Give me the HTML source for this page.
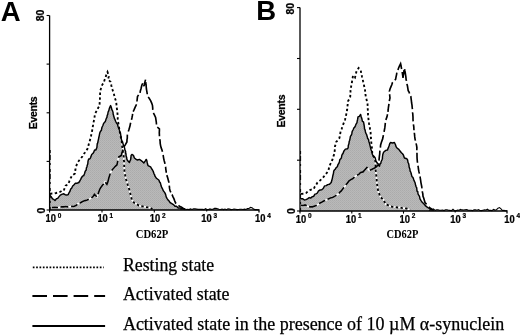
<!DOCTYPE html>
<html><head><meta charset="utf-8"><title>Figure</title>
<style>
html,body{margin:0;padding:0;background:#fff;}
body{width:520px;height:335px;overflow:hidden;}
svg{display:block;}
.ax{font-family:"Liberation Sans",Arial,sans-serif;font-weight:bold;font-size:10.5px;fill:#000;stroke:#000;stroke-width:0.25px;}
.big{font-family:"Liberation Sans",Arial,sans-serif;font-weight:bold;font-size:27.5px;fill:#000;}
.cd{font-family:"Liberation Serif","Times New Roman",serif;font-weight:bold;font-size:11.6px;fill:#000;}
.lg{font-family:"Liberation Serif","Times New Roman",serif;font-size:18.1px;fill:#000;stroke:#000;stroke-width:0.25px;}
</style></head><body>
<svg width="520" height="335" viewBox="0 0 520 335">
<defs><pattern id="ht" width="2" height="2" patternUnits="userSpaceOnUse"><rect width="2" height="2" fill="#b9b9b9"/><rect width="1" height="1" fill="#ababab"/><rect x="1" y="1" width="1" height="1" fill="#b0b0b0"/></pattern></defs>
<rect width="520" height="335" fill="#fff"/>
<path d="M50.1,210.0 L50.0,195.6 L51.3,196.8 L52.5,198.9 L53.8,199.4 L55.0,200.6 L56.3,198.8 L57.7,198.4 L58.8,196.9 L60.3,195.1 L62.3,194.1 L63.8,193.8 L65.1,194.7 L66.9,195.0 L68.2,194.6 L69.0,192.8 L70.0,191.2 L70.7,189.1 L71.6,188.2 L72.7,186.0 L73.8,185.0 L75.4,183.3 L77.3,183.2 L78.8,182.5 L79.8,181.0 L80.7,179.4 L81.4,177.7 L82.5,176.2 L83.7,175.6 L84.5,173.7 L85.2,171.2 L86.2,170.0 L86.4,167.9 L86.9,167.0 L87.2,165.4 L87.8,163.8 L88.0,161.2 L88.7,158.9 L89.8,159.0 L90.6,157.6 L91.7,154.5 L92.5,153.8 L93.5,152.7 L94.6,149.9 L95.9,149.9 L96.9,147.5 L97.1,145.1 L97.3,143.4 L97.7,143.0 L98.1,140.9 L98.6,138.6 L98.8,137.5 L99.3,135.3 L99.6,133.7 L100.0,132.3 L100.6,131.2 L101.4,130.2 L101.9,127.5 L102.9,125.5 L103.5,123.6 L104.4,122.5 L105.3,121.5 L106.3,118.4 L106.9,117.5 L107.2,115.3 L107.7,114.5 L108.1,112.0 L108.8,110.6 L109.4,108.2 L110.0,106.8 L110.6,105.6 L111.2,107.0 L111.9,109.8 L112.5,110.6 L113.1,112.6 L113.1,113.8 L113.8,116.2 L114.5,118.7 L114.8,119.1 L115.6,121.2 L116.6,123.3 L117.4,124.0 L118.0,126.2 L118.8,128.8 L119.4,130.0 L119.6,131.6 L120.4,132.7 L120.6,134.8 L121.1,136.6 L121.2,138.8 L121.8,140.8 L122.6,141.9 L123.0,143.6 L123.8,146.2 L124.6,148.0 L124.9,149.8 L125.6,151.2 L125.7,153.6 L126.0,153.6 L126.1,156.0 L126.6,157.2 L126.9,159.4 L128.0,161.1 L129.4,162.5 L130.1,160.6 L130.5,160.1 L130.9,158.0 L131.1,155.4 L131.9,154.4 L133.4,155.3 L134.4,158.0 L136.2,159.4 L137.5,160.0 L139.4,159.4 L141.2,160.6 L142.6,161.8 L143.8,163.0 L145.3,160.9 L146.2,159.4 L146.7,160.2 L147.3,162.9 L147.7,164.5 L148.0,165.6 L150.6,166.9 L151.8,169.0 L152.5,170.0 L153.2,171.3 L154.0,173.8 L154.5,174.5 L155.0,176.2 L156.3,178.2 L157.4,179.0 L158.8,180.0 L159.6,181.9 L160.3,182.7 L161.2,186.1 L161.7,187.4 L162.5,188.8 L163.3,190.8 L164.2,191.9 L164.9,192.9 L165.6,194.4 L166.2,196.9 L167.0,198.3 L168.1,200.1 L169.3,201.3 L170.0,202.5 L171.4,203.3 L173.4,204.6 L175.0,206.2 L176.5,206.3 L178.4,208.1 L180.0,208.0 L181.9,208.4 L183.4,208.7 L185.0,209.5 L185.0,210.0Z" fill="url(#ht)" stroke="none"/>
<path d="M50.0,193.8 L52.1,193.5 L54.1,193.4 L56.2,193.0 L60.0,192.0 L61.8,190.9 L63.8,190.6 L64.7,187.9 L65.6,185.6 L68.0,184.4 L69.0,182.1 L70.0,179.4 L71.0,177.5 L71.9,175.6 L75.0,173.5 L75.2,171.2 L75.5,169.2 L75.6,167.5 L76.5,165.3 L77.2,163.5 L78.0,162.0 L79.5,160.0 L80.9,158.4 L82.5,156.2 L83.8,154.0 L85.0,152.5 L86.2,150.6 L87.5,148.8 L88.2,147.1 L88.7,144.3 L89.4,142.5 L90.0,140.0 L90.6,138.0 L91.0,136.1 L91.4,134.2 L91.9,132.0 L92.3,129.6 L92.6,127.6 L93.0,125.6 L93.3,123.3 L93.8,121.2 L94.3,118.9 L94.6,116.6 L95.0,113.8 L96.1,111.8 L97.2,110.2 L98.2,107.8 L99.4,106.2 L99.6,104.0 L99.7,102.1 L99.9,99.3 L100.0,97.5 L100.1,95.4 L100.1,93.1 L100.2,91.2 L100.8,89.0 L101.2,86.9 L102.5,84.4 L103.8,82.5 L104.7,79.6 L105.6,77.2 L106.5,74.2 L107.5,72.0 L108.2,74.1 L108.8,76.5 L108.0,79.4 L110.6,81.9 L111.0,83.6 L111.4,85.7 L111.9,88.0 L112.6,90.0 L113.3,92.1 L113.9,93.9 L114.4,96.2 L114.9,98.1 L115.7,100.3 L116.2,102.0 L116.4,104.0 L116.7,106.9 L116.9,108.8 L117.3,111.0 L117.5,113.8 L117.8,116.6 L117.7,118.8 L118.0,121.2 L118.4,123.3 L118.7,125.9 L119.1,127.6 L119.4,130.0 L119.9,132.2 L120.4,134.2 L120.7,136.9 L121.2,138.8 L121.6,140.6 L121.9,142.6 L122.0,144.8 L122.2,146.9 L122.5,148.8 L122.8,150.8 L123.2,153.3 L123.5,155.0 L123.8,157.5 L123.8,159.5 L124.1,161.6 L124.1,163.8 L124.2,166.1 L124.2,168.1 L124.4,170.0 L124.4,172.0 L124.9,174.2 L125.3,175.9 L125.8,178.2 L126.2,180.0 L126.9,181.6 L127.6,184.3 L128.2,186.3 L128.8,188.0 L129.4,190.0 L129.8,191.9 L130.4,193.9 L130.9,196.3 L131.4,198.0 L131.9,200.0 L134.4,203.0 L136.6,204.0 L138.8,205.6 L140.8,206.2 L142.9,206.3 L145.0,206.9 L148.8,207.5 L150.7,208.1 L152.5,209.0" fill="none" stroke="#fff" stroke-width="1.6"/>
<path d="M52.0,207.5 L54.8,207.3 L57.5,207.5 L59.7,207.4 L61.6,206.8 L63.8,206.9 L65.7,206.5 L67.7,206.9 L69.7,206.7 L71.7,206.4 L73.8,206.5 L75.9,205.6 L77.9,203.8 L80.0,203.0 L82.6,201.5 L85.0,200.6 L87.2,200.0 L89.2,199.1 L91.2,198.0 L92.9,196.6 L94.4,194.4 L96.9,196.9 L97.8,194.7 L98.5,192.8 L99.2,190.8 L100.0,188.8 L101.2,186.9 L102.4,185.2 L103.8,183.9 L105.0,181.9 L106.9,184.4 L107.7,182.4 L108.4,179.7 L109.1,177.1 L109.8,175.0 L110.4,173.1 L111.2,171.2 L112.5,169.4 L113.8,168.0 L115.3,166.3 L116.9,165.0 L117.3,163.1 L117.8,160.7 L118.2,158.7 L118.8,156.9 L121.2,155.6 L121.8,153.2 L122.5,151.0 L123.1,149.5 L123.8,147.0 L125.4,144.6 L126.9,141.9 L127.0,139.5 L127.3,138.1 L127.3,135.9 L127.5,133.8 L128.8,130.0 L129.4,127.9 L129.9,126.3 L130.4,123.8 L130.9,121.9 L131.5,119.7 L131.9,118.0 L132.3,116.0 L132.7,113.7 L133.0,111.9 L134.1,109.7 L135.2,107.2 L136.2,105.0 L136.9,102.0 L137.2,99.1 L137.5,96.5 L138.8,94.5 L140.0,93.0 L140.4,90.7 L141.0,88.7 L141.4,87.0 L141.9,85.0 L143.0,82.7 L144.0,86.2 L144.5,83.6 L145.0,81.6 L145.6,79.5 L145.9,81.5 L146.0,83.9 L146.2,86.4 L146.4,89.0 L146.8,91.1 L147.2,93.7 L147.5,96.2 L149.0,98.0 L150.6,100.6 L151.7,103.1 L152.5,105.6 L152.7,107.9 L152.8,110.3 L153.0,112.5 L154.3,114.6 L155.6,117.5 L156.0,120.2 L156.3,122.0 L156.5,124.8 L156.9,126.9 L159.4,128.8 L159.4,130.9 L159.3,132.7 L159.4,134.7 L159.4,137.0 L159.7,138.8 L160.1,141.0 L160.2,143.5 L160.6,145.6 L161.2,147.9 L161.9,149.8 L162.5,151.9 L162.9,153.9 L163.3,156.1 L163.7,158.6 L164.2,160.7 L164.7,162.5 L165.1,164.4 L165.6,166.9 L165.8,169.1 L166.2,171.8 L166.2,173.8 L166.9,175.4 L167.6,177.6 L168.2,179.8 L168.8,182.0 L169.0,184.2 L169.3,185.9 L169.6,188.7 L170.0,190.6 L171.0,192.7 L172.1,194.7 L173.0,196.9 L173.9,198.7 L174.8,201.1 L175.6,203.0 L177.6,204.6 L179.4,206.2 L181.2,206.9 L184.0,209.0" fill="none" stroke="#fff" stroke-width="1.6"/>
<path d="M50.0,195.6 L51.3,196.8 L52.5,198.9 L53.8,199.4 L55.0,200.6 L56.3,198.8 L57.7,198.4 L58.8,196.9 L60.3,195.1 L62.3,194.1 L63.8,193.8 L65.1,194.7 L66.9,195.0 L68.2,194.6 L69.0,192.8 L70.0,191.2 L70.7,189.1 L71.6,188.2 L72.7,186.0 L73.8,185.0 L75.4,183.3 L77.3,183.2 L78.8,182.5 L79.8,181.0 L80.7,179.4 L81.4,177.7 L82.5,176.2 L83.7,175.6 L84.5,173.7 L85.2,171.2 L86.2,170.0 L86.4,167.9 L86.9,167.0 L87.2,165.4 L87.8,163.8 L88.0,161.2 L88.7,158.9 L89.8,159.0 L90.6,157.6 L91.7,154.5 L92.5,153.8 L93.5,152.7 L94.6,149.9 L95.9,149.9 L96.9,147.5 L97.1,145.1 L97.3,143.4 L97.7,143.0 L98.1,140.9 L98.6,138.6 L98.8,137.5 L99.3,135.3 L99.6,133.7 L100.0,132.3 L100.6,131.2 L101.4,130.2 L101.9,127.5 L102.9,125.5 L103.5,123.6 L104.4,122.5 L105.3,121.5 L106.3,118.4 L106.9,117.5 L107.2,115.3 L107.7,114.5 L108.1,112.0 L108.8,110.6 L109.4,108.2 L110.0,106.8 L110.6,105.6 L111.2,107.0 L111.9,109.8 L112.5,110.6 L113.1,112.6 L113.1,113.8 L113.8,116.2 L114.5,118.7 L114.8,119.1 L115.6,121.2 L116.6,123.3 L117.4,124.0 L118.0,126.2 L118.8,128.8 L119.4,130.0 L119.6,131.6 L120.4,132.7 L120.6,134.8 L121.1,136.6 L121.2,138.8 L121.8,140.8 L122.6,141.9 L123.0,143.6 L123.8,146.2 L124.6,148.0 L124.9,149.8 L125.6,151.2 L125.7,153.6 L126.0,153.6 L126.1,156.0 L126.6,157.2 L126.9,159.4 L128.0,161.1 L129.4,162.5 L130.1,160.6 L130.5,160.1 L130.9,158.0 L131.1,155.4 L131.9,154.4 L133.4,155.3 L134.4,158.0 L136.2,159.4 L137.5,160.0 L139.4,159.4 L141.2,160.6 L142.6,161.8 L143.8,163.0 L145.3,160.9 L146.2,159.4 L146.7,160.2 L147.3,162.9 L147.7,164.5 L148.0,165.6 L150.6,166.9 L151.8,169.0 L152.5,170.0 L153.2,171.3 L154.0,173.8 L154.5,174.5 L155.0,176.2 L156.3,178.2 L157.4,179.0 L158.8,180.0 L159.6,181.9 L160.3,182.7 L161.2,186.1 L161.7,187.4 L162.5,188.8 L163.3,190.8 L164.2,191.9 L164.9,192.9 L165.6,194.4 L166.2,196.9 L167.0,198.3 L168.1,200.1 L169.3,201.3 L170.0,202.5 L171.4,203.3 L173.4,204.6 L175.0,206.2 L176.5,206.3 L178.4,208.1 L180.0,208.0 L181.9,208.4 L183.4,208.7 L185.0,209.5" fill="none" stroke="#000" stroke-width="1.45" stroke-linejoin="round"/>
<path d="M50.0,193.8 L52.1,193.5 L54.1,193.4 L56.2,193.0 L60.0,192.0 L61.8,190.9 L63.8,190.6 L64.7,187.9 L65.6,185.6 L68.0,184.4 L69.0,182.1 L70.0,179.4 L71.0,177.5 L71.9,175.6 L75.0,173.5 L75.2,171.2 L75.5,169.2 L75.6,167.5 L76.5,165.3 L77.2,163.5 L78.0,162.0 L79.5,160.0 L80.9,158.4 L82.5,156.2 L83.8,154.0 L85.0,152.5 L86.2,150.6 L87.5,148.8 L88.2,147.1 L88.7,144.3 L89.4,142.5 L90.0,140.0 L90.6,138.0 L91.0,136.1 L91.4,134.2 L91.9,132.0 L92.3,129.6 L92.6,127.6 L93.0,125.6 L93.3,123.3 L93.8,121.2 L94.3,118.9 L94.6,116.6 L95.0,113.8 L96.1,111.8 L97.2,110.2 L98.2,107.8 L99.4,106.2 L99.6,104.0 L99.7,102.1 L99.9,99.3 L100.0,97.5 L100.1,95.4 L100.1,93.1 L100.2,91.2 L100.8,89.0 L101.2,86.9 L102.5,84.4 L103.8,82.5 L104.7,79.6 L105.6,77.2 L106.5,74.2 L107.5,72.0 L108.2,74.1 L108.8,76.5 L108.0,79.4 L110.6,81.9 L111.0,83.6 L111.4,85.7 L111.9,88.0 L112.6,90.0 L113.3,92.1 L113.9,93.9 L114.4,96.2 L114.9,98.1 L115.7,100.3 L116.2,102.0 L116.4,104.0 L116.7,106.9 L116.9,108.8 L117.3,111.0 L117.5,113.8 L117.8,116.6 L117.7,118.8 L118.0,121.2 L118.4,123.3 L118.7,125.9 L119.1,127.6 L119.4,130.0 L119.9,132.2 L120.4,134.2 L120.7,136.9 L121.2,138.8 L121.6,140.6 L121.9,142.6 L122.0,144.8 L122.2,146.9 L122.5,148.8 L122.8,150.8 L123.2,153.3 L123.5,155.0 L123.8,157.5 L123.8,159.5 L124.1,161.6 L124.1,163.8 L124.2,166.1 L124.2,168.1 L124.4,170.0 L124.4,172.0 L124.9,174.2 L125.3,175.9 L125.8,178.2 L126.2,180.0 L126.9,181.6 L127.6,184.3 L128.2,186.3 L128.8,188.0 L129.4,190.0 L129.8,191.9 L130.4,193.9 L130.9,196.3 L131.4,198.0 L131.9,200.0 L134.4,203.0 L136.6,204.0 L138.8,205.6 L140.8,206.2 L142.9,206.3 L145.0,206.9 L148.8,207.5 L150.7,208.1 L152.5,209.0" fill="none" stroke="#000" stroke-width="1.85" stroke-dasharray="2.4 2.4"/>
<path d="M52.0,207.5 L54.8,207.3 L57.5,207.5 L59.7,207.4 L61.6,206.8 L63.8,206.9 L65.7,206.5 L67.7,206.9 L69.7,206.7 L71.7,206.4 L73.8,206.5 L75.9,205.6 L77.9,203.8 L80.0,203.0 L82.6,201.5 L85.0,200.6 L87.2,200.0 L89.2,199.1 L91.2,198.0 L92.9,196.6 L94.4,194.4 L96.9,196.9 L97.8,194.7 L98.5,192.8 L99.2,190.8 L100.0,188.8 L101.2,186.9 L102.4,185.2 L103.8,183.9 L105.0,181.9 L106.9,184.4 L107.7,182.4 L108.4,179.7 L109.1,177.1 L109.8,175.0 L110.4,173.1 L111.2,171.2 L112.5,169.4 L113.8,168.0 L115.3,166.3 L116.9,165.0 L117.3,163.1 L117.8,160.7 L118.2,158.7 L118.8,156.9 L121.2,155.6 L121.8,153.2 L122.5,151.0 L123.1,149.5 L123.8,147.0 L125.4,144.6 L126.9,141.9 L127.0,139.5 L127.3,138.1 L127.3,135.9 L127.5,133.8 L128.8,130.0 L129.4,127.9 L129.9,126.3 L130.4,123.8 L130.9,121.9 L131.5,119.7 L131.9,118.0 L132.3,116.0 L132.7,113.7 L133.0,111.9 L134.1,109.7 L135.2,107.2 L136.2,105.0 L136.9,102.0 L137.2,99.1 L137.5,96.5 L138.8,94.5 L140.0,93.0 L140.4,90.7 L141.0,88.7 L141.4,87.0 L141.9,85.0 L143.0,82.7 L144.0,86.2 L144.5,83.6 L145.0,81.6 L145.6,79.5 L145.9,81.5 L146.0,83.9 L146.2,86.4 L146.4,89.0 L146.8,91.1 L147.2,93.7 L147.5,96.2 L149.0,98.0 L150.6,100.6 L151.7,103.1 L152.5,105.6 L152.7,107.9 L152.8,110.3 L153.0,112.5 L154.3,114.6 L155.6,117.5 L156.0,120.2 L156.3,122.0 L156.5,124.8 L156.9,126.9 L159.4,128.8 L159.4,130.9 L159.3,132.7 L159.4,134.7 L159.4,137.0 L159.7,138.8 L160.1,141.0 L160.2,143.5 L160.6,145.6 L161.2,147.9 L161.9,149.8 L162.5,151.9 L162.9,153.9 L163.3,156.1 L163.7,158.6 L164.2,160.7 L164.7,162.5 L165.1,164.4 L165.6,166.9 L165.8,169.1 L166.2,171.8 L166.2,173.8 L166.9,175.4 L167.6,177.6 L168.2,179.8 L168.8,182.0 L169.0,184.2 L169.3,185.9 L169.6,188.7 L170.0,190.6 L171.0,192.7 L172.1,194.7 L173.0,196.9 L173.9,198.7 L174.8,201.1 L175.6,203.0 L177.6,204.6 L179.4,206.2 L181.2,206.9 L184.0,209.0" fill="none" stroke="#000" stroke-width="1.65" stroke-dasharray="6 2.5 8 2.8 7 2.5 10 3 8 3 12 3 14 3.3 12 3 10 3 13 3.3 9 3"/>
<path d="M180.0,209.0 L181.5,209.2 L183.0,208.9 L184.5,208.6 L186.0,209.6 L187.5,209.3 L189.0,209.6 L190.5,208.9 L192.0,209.4 L193.5,208.9 L195.0,208.9 L196.5,209.1 L198.0,209.4 L199.5,209.4 L201.0,209.3 L202.5,209.4 L204.0,209.6 L205.5,208.7 L207.0,209.5 L208.5,209.5 L210.0,208.9 L211.5,209.4 L213.0,209.2 L214.5,208.4 L216.0,208.3 L217.5,208.8 L219.0,209.3 L220.5,209.5 L222.0,209.1 L223.5,209.6 L225.0,209.1 L226.5,209.7 L228.0,208.8 L229.5,209.0 L231.0,209.6 L232.5,209.5 L234.0,209.0 L235.5,209.3 L237.0,209.6 L238.5,209.5 L240.0,209.2 L241.5,209.2 L243.0,209.5 L244.5,209.1 L246.0,209.5 L247.5,208.6 L249.0,208.5 L250.5,207.4 L252.0,207.7 L253.5,209.0 L255.0,209.6 L256.5,209.6 L258.0,209.7 L259.0,209.7" fill="none" stroke="#000" stroke-width="1.1"/>
<path d="M49.6,15.5 V210.0 H259.0 v2.5" fill="none" stroke="#000" stroke-width="1.3"/>
<path d="M50.2,150.0 V210.0" fill="none" stroke="#000" stroke-width="1" stroke-dasharray="3 2 5 3 2 4"/>
<path d="M49.6,210.0 v2.6" stroke="#000" stroke-width="1.1"/>
<path d="M102.0,210.0 v2.6" stroke="#000" stroke-width="1.1"/>
<path d="M154.3,210.0 v2.6" stroke="#000" stroke-width="1.1"/>
<path d="M206.7,210.0 v1.6" stroke="#000" stroke-width="1.1"/>
<path d="M49.6,15.5 h-3" stroke="#000" stroke-width="1.1"/>
<path d="M49.6,64.1 h-3" stroke="#000" stroke-width="1.1"/>
<path d="M49.6,112.8 h-3" stroke="#000" stroke-width="1.1"/>
<path d="M49.6,161.4 h-3" stroke="#000" stroke-width="1.1"/>
<path d="M49.6,210.0 h-3" stroke="#000" stroke-width="1.1"/>
<path d="M300.5,211.0 L301.0,198.8 L302.8,198.8 L304.4,200.0 L305.9,199.6 L307.5,198.8 L309.2,197.6 L310.6,198.1 L312.0,196.9 L313.8,196.2 L314.9,194.1 L316.0,193.9 L317.4,193.0 L318.5,190.8 L320.0,190.0 L321.7,189.8 L323.2,188.5 L324.6,185.9 L326.2,185.6 L327.7,184.6 L329.5,184.3 L331.2,182.5 L331.9,180.0 L332.4,178.1 L332.6,176.8 L333.0,175.0 L333.5,173.1 L333.7,171.1 L334.4,170.0 L335.2,169.3 L336.0,167.8 L337.3,166.7 L338.0,164.5 L338.8,163.5 L339.4,161.7 L339.9,159.4 L340.4,159.2 L341.4,157.9 L341.8,155.5 L342.4,154.1 L343.0,153.6 L343.8,151.2 L345.4,149.1 L347.5,148.8 L348.2,147.5 L348.3,145.4 L348.9,143.8 L349.2,141.6 L349.6,140.5 L350.0,138.8 L350.4,136.4 L351.4,135.0 L351.9,133.2 L352.2,131.4 L353.0,130.0 L354.0,127.7 L354.6,127.4 L355.5,125.6 L356.2,123.8 L356.9,122.8 L357.4,120.2 L357.6,119.4 L358.0,116.9 L359.3,116.3 L360.6,114.4 L361.1,116.4 L361.9,118.8 L362.4,121.3 L363.5,121.8 L364.0,124.5 L364.4,126.9 L364.5,128.9 L365.0,129.7 L365.5,132.0 L365.9,133.4 L366.5,134.3 L367.4,137.3 L367.7,138.6 L368.5,139.3 L368.8,141.2 L369.4,143.0 L369.6,143.9 L370.4,147.1 L370.8,148.9 L371.2,150.0 L371.9,151.7 L372.3,154.4 L373.0,155.6 L375.0,157.5 L375.5,159.2 L376.0,161.3 L376.9,162.5 L378.4,164.7 L379.4,166.2 L380.1,163.8 L380.8,163.4 L381.1,161.7 L381.9,160.0 L382.5,158.2 L382.4,157.5 L382.8,154.5 L383.4,152.7 L383.8,152.0 L385.8,150.4 L387.5,150.0 L387.9,148.8 L388.6,147.1 L389.2,145.5 L389.8,143.4 L390.6,142.5 L392.5,143.0 L394.4,142.5 L395.4,144.5 L396.2,146.9 L397.3,148.2 L398.8,149.4 L400.2,151.2 L401.4,152.8 L402.5,153.8 L403.4,155.0 L404.4,158.0 L406.9,158.8 L407.6,159.8 L408.0,162.5 L408.6,163.5 L409.0,165.3 L409.1,167.0 L409.8,168.7 L410.2,171.3 L410.8,172.1 L411.2,173.8 L411.9,176.4 L413.0,177.5 L413.7,179.6 L414.6,181.7 L415.1,182.8 L415.6,185.0 L416.1,186.8 L416.7,187.7 L417.0,191.1 L417.8,191.7 L418.0,193.8 L418.4,194.7 L419.5,196.3 L420.0,198.8 L421.2,200.9 L422.2,202.3 L423.8,203.8 L425.3,205.6 L426.9,206.9 L428.4,208.0 L430.0,209.0 L431.9,209.5 L434.0,210.3 L434.0,211.0Z" fill="url(#ht)" stroke="none"/>
<path d="M301.0,193.8 L303.5,193.7 L306.2,193.0 L308.2,191.1 L310.0,190.0 L313.8,188.8 L314.9,186.4 L316.2,184.7 L317.5,182.5 L319.6,180.9 L321.9,178.8 L323.4,177.2 L325.0,175.0 L326.6,173.2 L328.0,171.2 L328.8,168.9 L329.4,166.2 L330.3,164.1 L331.5,162.0 L332.5,159.4 L333.4,156.4 L334.4,153.8 L334.6,151.5 L334.9,149.1 L335.0,146.2 L335.6,144.4 L336.2,141.9 L337.9,140.1 L339.4,138.0 L339.9,135.6 L340.3,133.3 L340.6,131.2 L341.6,129.1 L342.5,126.2 L343.4,123.9 L344.1,122.2 L345.0,120.0 L345.5,117.5 L346.1,115.3 L346.4,113.4 L346.9,111.2 L347.2,109.2 L347.3,107.6 L347.6,105.1 L347.8,103.1 L348.0,101.2 L349.1,99.2 L350.2,97.0 L350.3,95.1 L350.5,92.5 L350.5,90.7 L350.6,88.8 L351.1,86.6 L351.5,84.9 L351.9,82.5 L352.2,80.1 L352.6,78.2 L353.0,75.6 L355.0,77.5 L355.5,75.5 L356.0,73.2 L356.5,71.2 L358.6,68.0 L360.8,70.5 L361.2,73.1 L361.9,76.2 L362.6,78.8 L363.1,81.4 L363.8,83.8 L364.1,86.0 L364.7,87.8 L365.0,90.0 L365.3,92.5 L365.5,94.6 L365.8,96.5 L366.4,98.9 L367.0,101.7 L367.5,103.8 L367.7,106.0 L367.7,108.4 L367.9,110.7 L368.0,112.8 L368.0,115.0 L368.3,116.9 L368.5,119.6 L368.9,121.5 L369.1,123.9 L369.4,126.2 L369.9,128.0 L370.1,130.3 L370.6,132.5 L370.7,134.5 L370.8,137.2 L371.0,138.9 L371.2,141.2 L371.4,143.5 L371.7,145.7 L372.0,148.5 L372.1,150.0 L372.2,153.0 L372.5,155.0 L373.7,156.6 L375.0,158.8 L375.3,161.2 L375.4,163.9 L375.6,166.2 L375.7,168.2 L375.8,170.4 L376.0,172.9 L376.2,175.0 L376.5,177.8 L376.7,179.6 L376.9,182.5 L377.2,185.1 L377.5,187.5 L378.0,190.0 L378.5,192.3 L379.4,194.3 L380.0,196.2 L381.8,198.4 L383.8,200.0 L384.6,202.2 L385.6,204.4 L387.9,205.2 L390.0,206.2 L392.4,206.9 L395.0,207.0 L397.5,207.5 L400.1,207.4 L402.5,208.1 L405.0,208.0 L407.6,208.9 L410.0,210.0" fill="none" stroke="#fff" stroke-width="1.6"/>
<path d="M301.0,205.3 L303.1,205.5 L305.0,205.0 L307.5,206.2 L309.9,206.9 L312.5,206.9 L316.2,205.6 L318.1,204.4 L320.0,203.0 L322.0,202.0 L324.2,200.8 L326.2,200.0 L328.3,198.9 L330.3,198.0 L332.5,197.5 L334.6,196.4 L336.7,195.0 L338.8,193.8 L339.9,192.1 L341.3,190.9 L342.5,189.2 L343.8,187.5 L345.0,186.3 L346.2,184.6 L347.5,182.9 L348.8,181.2 L350.5,179.9 L352.5,178.8 L354.4,177.2 L356.2,175.6 L358.8,174.4 L360.6,172.5 L363.0,171.9 L364.9,169.8 L366.9,167.5 L369.4,170.5 L371.1,169.7 L373.0,168.8 L375.6,167.5 L377.1,166.0 L378.8,165.0 L378.8,163.1 L379.0,160.3 L379.2,158.1 L379.4,156.2 L379.7,154.1 L379.8,151.6 L380.1,149.3 L380.4,147.5 L380.6,145.0 L381.5,142.0 L382.5,139.4 L383.0,137.3 L383.4,135.0 L384.0,132.4 L384.4,130.0 L384.8,127.9 L385.1,125.4 L385.3,123.1 L385.6,121.2 L386.3,118.6 L387.0,116.8 L387.5,114.4 L387.9,112.3 L388.2,109.7 L388.4,107.5 L388.8,105.0 L389.1,103.0 L389.5,100.1 L390.0,98.0 L389.7,95.7 L389.7,93.8 L389.4,91.2 L390.1,88.8 L390.9,86.9 L391.8,84.7 L392.5,82.5 L394.0,80.8 L395.6,79.4 L396.0,77.2 L396.6,74.3 L396.9,71.9 L397.8,70.3 L398.5,68.3 L399.4,66.2 L400.6,63.8 L401.1,66.0 L401.4,68.0 L401.9,70.0 L402.2,71.8 L402.5,74.2 L402.8,76.0 L403.0,78.0 L403.3,75.7 L403.6,73.9 L403.8,72.3 L404.0,70.4 L404.4,68.0 L404.8,70.4 L405.2,72.5 L405.6,75.0 L405.9,77.2 L406.1,79.5 L406.6,81.5 L406.9,83.8 L407.4,85.7 L407.8,88.1 L408.2,90.6 L409.1,92.2 L409.8,94.3 L410.8,96.2 L411.1,98.7 L411.4,100.9 L411.6,103.0 L412.0,105.1 L412.2,107.5 L412.5,109.5 L412.6,112.4 L412.8,114.4 L413.0,117.2 L413.0,119.6 L413.2,122.0 L413.4,124.3 L413.8,126.8 L413.9,129.3 L414.2,131.9 L414.5,134.1 L414.7,136.4 L415.0,138.8 L415.4,140.7 L415.9,142.8 L416.5,145.1 L416.9,147.5 L416.8,149.7 L416.9,151.8 L417.0,154.1 L417.0,156.2 L417.1,158.8 L417.3,161.0 L417.5,163.0 L417.8,165.4 L418.2,166.8 L418.4,169.0 L418.8,171.2 L419.3,173.2 L419.7,175.3 L420.2,177.7 L420.6,180.0 L420.9,182.3 L421.5,185.3 L421.9,187.5 L422.3,189.4 L422.4,192.2 L422.8,193.7 L423.0,196.2 L423.7,198.0 L424.4,200.4 L425.0,202.5 L427.5,205.6 L430.0,208.0 L433.0,210.0" fill="none" stroke="#fff" stroke-width="1.6"/>
<path d="M301.0,198.8 L302.8,198.8 L304.4,200.0 L305.9,199.6 L307.5,198.8 L309.2,197.6 L310.6,198.1 L312.0,196.9 L313.8,196.2 L314.9,194.1 L316.0,193.9 L317.4,193.0 L318.5,190.8 L320.0,190.0 L321.7,189.8 L323.2,188.5 L324.6,185.9 L326.2,185.6 L327.7,184.6 L329.5,184.3 L331.2,182.5 L331.9,180.0 L332.4,178.1 L332.6,176.8 L333.0,175.0 L333.5,173.1 L333.7,171.1 L334.4,170.0 L335.2,169.3 L336.0,167.8 L337.3,166.7 L338.0,164.5 L338.8,163.5 L339.4,161.7 L339.9,159.4 L340.4,159.2 L341.4,157.9 L341.8,155.5 L342.4,154.1 L343.0,153.6 L343.8,151.2 L345.4,149.1 L347.5,148.8 L348.2,147.5 L348.3,145.4 L348.9,143.8 L349.2,141.6 L349.6,140.5 L350.0,138.8 L350.4,136.4 L351.4,135.0 L351.9,133.2 L352.2,131.4 L353.0,130.0 L354.0,127.7 L354.6,127.4 L355.5,125.6 L356.2,123.8 L356.9,122.8 L357.4,120.2 L357.6,119.4 L358.0,116.9 L359.3,116.3 L360.6,114.4 L361.1,116.4 L361.9,118.8 L362.4,121.3 L363.5,121.8 L364.0,124.5 L364.4,126.9 L364.5,128.9 L365.0,129.7 L365.5,132.0 L365.9,133.4 L366.5,134.3 L367.4,137.3 L367.7,138.6 L368.5,139.3 L368.8,141.2 L369.4,143.0 L369.6,143.9 L370.4,147.1 L370.8,148.9 L371.2,150.0 L371.9,151.7 L372.3,154.4 L373.0,155.6 L375.0,157.5 L375.5,159.2 L376.0,161.3 L376.9,162.5 L378.4,164.7 L379.4,166.2 L380.1,163.8 L380.8,163.4 L381.1,161.7 L381.9,160.0 L382.5,158.2 L382.4,157.5 L382.8,154.5 L383.4,152.7 L383.8,152.0 L385.8,150.4 L387.5,150.0 L387.9,148.8 L388.6,147.1 L389.2,145.5 L389.8,143.4 L390.6,142.5 L392.5,143.0 L394.4,142.5 L395.4,144.5 L396.2,146.9 L397.3,148.2 L398.8,149.4 L400.2,151.2 L401.4,152.8 L402.5,153.8 L403.4,155.0 L404.4,158.0 L406.9,158.8 L407.6,159.8 L408.0,162.5 L408.6,163.5 L409.0,165.3 L409.1,167.0 L409.8,168.7 L410.2,171.3 L410.8,172.1 L411.2,173.8 L411.9,176.4 L413.0,177.5 L413.7,179.6 L414.6,181.7 L415.1,182.8 L415.6,185.0 L416.1,186.8 L416.7,187.7 L417.0,191.1 L417.8,191.7 L418.0,193.8 L418.4,194.7 L419.5,196.3 L420.0,198.8 L421.2,200.9 L422.2,202.3 L423.8,203.8 L425.3,205.6 L426.9,206.9 L428.4,208.0 L430.0,209.0 L431.9,209.5 L434.0,210.3" fill="none" stroke="#000" stroke-width="1.45" stroke-linejoin="round"/>
<path d="M301.0,193.8 L303.5,193.7 L306.2,193.0 L308.2,191.1 L310.0,190.0 L313.8,188.8 L314.9,186.4 L316.2,184.7 L317.5,182.5 L319.6,180.9 L321.9,178.8 L323.4,177.2 L325.0,175.0 L326.6,173.2 L328.0,171.2 L328.8,168.9 L329.4,166.2 L330.3,164.1 L331.5,162.0 L332.5,159.4 L333.4,156.4 L334.4,153.8 L334.6,151.5 L334.9,149.1 L335.0,146.2 L335.6,144.4 L336.2,141.9 L337.9,140.1 L339.4,138.0 L339.9,135.6 L340.3,133.3 L340.6,131.2 L341.6,129.1 L342.5,126.2 L343.4,123.9 L344.1,122.2 L345.0,120.0 L345.5,117.5 L346.1,115.3 L346.4,113.4 L346.9,111.2 L347.2,109.2 L347.3,107.6 L347.6,105.1 L347.8,103.1 L348.0,101.2 L349.1,99.2 L350.2,97.0 L350.3,95.1 L350.5,92.5 L350.5,90.7 L350.6,88.8 L351.1,86.6 L351.5,84.9 L351.9,82.5 L352.2,80.1 L352.6,78.2 L353.0,75.6 L355.0,77.5 L355.5,75.5 L356.0,73.2 L356.5,71.2 L358.6,68.0 L360.8,70.5 L361.2,73.1 L361.9,76.2 L362.6,78.8 L363.1,81.4 L363.8,83.8 L364.1,86.0 L364.7,87.8 L365.0,90.0 L365.3,92.5 L365.5,94.6 L365.8,96.5 L366.4,98.9 L367.0,101.7 L367.5,103.8 L367.7,106.0 L367.7,108.4 L367.9,110.7 L368.0,112.8 L368.0,115.0 L368.3,116.9 L368.5,119.6 L368.9,121.5 L369.1,123.9 L369.4,126.2 L369.9,128.0 L370.1,130.3 L370.6,132.5 L370.7,134.5 L370.8,137.2 L371.0,138.9 L371.2,141.2 L371.4,143.5 L371.7,145.7 L372.0,148.5 L372.1,150.0 L372.2,153.0 L372.5,155.0 L373.7,156.6 L375.0,158.8 L375.3,161.2 L375.4,163.9 L375.6,166.2 L375.7,168.2 L375.8,170.4 L376.0,172.9 L376.2,175.0 L376.5,177.8 L376.7,179.6 L376.9,182.5 L377.2,185.1 L377.5,187.5 L378.0,190.0 L378.5,192.3 L379.4,194.3 L380.0,196.2 L381.8,198.4 L383.8,200.0 L384.6,202.2 L385.6,204.4 L387.9,205.2 L390.0,206.2 L392.4,206.9 L395.0,207.0 L397.5,207.5 L400.1,207.4 L402.5,208.1 L405.0,208.0 L407.6,208.9 L410.0,210.0" fill="none" stroke="#000" stroke-width="1.85" stroke-dasharray="2.4 2.4"/>
<path d="M301.0,205.3 L303.1,205.5 L305.0,205.0 L307.5,206.2 L309.9,206.9 L312.5,206.9 L316.2,205.6 L318.1,204.4 L320.0,203.0 L322.0,202.0 L324.2,200.8 L326.2,200.0 L328.3,198.9 L330.3,198.0 L332.5,197.5 L334.6,196.4 L336.7,195.0 L338.8,193.8 L339.9,192.1 L341.3,190.9 L342.5,189.2 L343.8,187.5 L345.0,186.3 L346.2,184.6 L347.5,182.9 L348.8,181.2 L350.5,179.9 L352.5,178.8 L354.4,177.2 L356.2,175.6 L358.8,174.4 L360.6,172.5 L363.0,171.9 L364.9,169.8 L366.9,167.5 L369.4,170.5 L371.1,169.7 L373.0,168.8 L375.6,167.5 L377.1,166.0 L378.8,165.0 L378.8,163.1 L379.0,160.3 L379.2,158.1 L379.4,156.2 L379.7,154.1 L379.8,151.6 L380.1,149.3 L380.4,147.5 L380.6,145.0 L381.5,142.0 L382.5,139.4 L383.0,137.3 L383.4,135.0 L384.0,132.4 L384.4,130.0 L384.8,127.9 L385.1,125.4 L385.3,123.1 L385.6,121.2 L386.3,118.6 L387.0,116.8 L387.5,114.4 L387.9,112.3 L388.2,109.7 L388.4,107.5 L388.8,105.0 L389.1,103.0 L389.5,100.1 L390.0,98.0 L389.7,95.7 L389.7,93.8 L389.4,91.2 L390.1,88.8 L390.9,86.9 L391.8,84.7 L392.5,82.5 L394.0,80.8 L395.6,79.4 L396.0,77.2 L396.6,74.3 L396.9,71.9 L397.8,70.3 L398.5,68.3 L399.4,66.2 L400.6,63.8 L401.1,66.0 L401.4,68.0 L401.9,70.0 L402.2,71.8 L402.5,74.2 L402.8,76.0 L403.0,78.0 L403.3,75.7 L403.6,73.9 L403.8,72.3 L404.0,70.4 L404.4,68.0 L404.8,70.4 L405.2,72.5 L405.6,75.0 L405.9,77.2 L406.1,79.5 L406.6,81.5 L406.9,83.8 L407.4,85.7 L407.8,88.1 L408.2,90.6 L409.1,92.2 L409.8,94.3 L410.8,96.2 L411.1,98.7 L411.4,100.9 L411.6,103.0 L412.0,105.1 L412.2,107.5 L412.5,109.5 L412.6,112.4 L412.8,114.4 L413.0,117.2 L413.0,119.6 L413.2,122.0 L413.4,124.3 L413.8,126.8 L413.9,129.3 L414.2,131.9 L414.5,134.1 L414.7,136.4 L415.0,138.8 L415.4,140.7 L415.9,142.8 L416.5,145.1 L416.9,147.5 L416.8,149.7 L416.9,151.8 L417.0,154.1 L417.0,156.2 L417.1,158.8 L417.3,161.0 L417.5,163.0 L417.8,165.4 L418.2,166.8 L418.4,169.0 L418.8,171.2 L419.3,173.2 L419.7,175.3 L420.2,177.7 L420.6,180.0 L420.9,182.3 L421.5,185.3 L421.9,187.5 L422.3,189.4 L422.4,192.2 L422.8,193.7 L423.0,196.2 L423.7,198.0 L424.4,200.4 L425.0,202.5 L427.5,205.6 L430.0,208.0 L433.0,210.0" fill="none" stroke="#000" stroke-width="1.65" stroke-dasharray="6 2.5 8 2.8 7 2.5 10 3 8 3 12 3 14 3.3 12 3 10 3 13 3.3 9 3"/>
<path d="M429.0,210.5 L430.5,209.7 L432.0,209.9 L433.5,208.9 L435.0,210.4 L436.5,209.9 L438.0,209.9 L439.5,210.2 L441.0,210.2 L442.5,210.0 L444.0,210.6 L445.5,209.8 L447.0,209.7 L448.5,210.3 L450.0,210.4 L451.5,210.7 L453.0,209.3 L454.5,210.6 L456.0,210.7 L457.5,210.1 L459.0,210.2 L460.5,209.4 L462.0,209.9 L463.5,210.0 L465.0,209.7 L466.5,209.5 L468.0,210.1 L469.5,210.2 L471.0,210.2 L472.5,210.6 L474.0,209.7 L475.5,209.9 L477.0,210.2 L478.5,209.6 L480.0,210.5 L481.5,210.6 L483.0,210.2 L484.5,209.9 L486.0,210.0 L487.5,209.2 L489.0,210.4 L490.5,210.4 L492.0,210.6 L493.5,209.4 L495.0,210.1 L496.5,209.7 L498.0,208.2 L499.5,207.6 L501.0,208.8 L502.5,210.5 L504.0,210.4 L505.5,210.7 L507.0,210.7" fill="none" stroke="#000" stroke-width="1.1"/>
<path d="M300.0,7.6 V211.0 H507.0 v2.5" fill="none" stroke="#000" stroke-width="1.3"/>
<path d="M300.6,151.0 V211.0" fill="none" stroke="#000" stroke-width="1" stroke-dasharray="3 2 5 3 2 4"/>
<path d="M300.0,211.0 v2.6" stroke="#000" stroke-width="1.1"/>
<path d="M351.8,211.0 v2.6" stroke="#000" stroke-width="1.1"/>
<path d="M403.5,211.0 v2.6" stroke="#000" stroke-width="1.1"/>
<path d="M455.2,211.0 v1.6" stroke="#000" stroke-width="1.1"/>
<path d="M300.0,7.6 h-3" stroke="#000" stroke-width="1.1"/>
<path d="M300.0,58.5 h-3" stroke="#000" stroke-width="1.1"/>
<path d="M300.0,109.3 h-3" stroke="#000" stroke-width="1.1"/>
<path d="M300.0,160.2 h-3" stroke="#000" stroke-width="1.1"/>
<path d="M300.0,211.0 h-3" stroke="#000" stroke-width="1.1"/>
<path d="M32.8,267.3 H103.8" stroke="#000" stroke-width="1.7" stroke-dasharray="1.7 1.65"/>
<path d="M32.4,296 H105.1" stroke="#000" stroke-width="2" stroke-dasharray="14.6 6"/>
<path d="M32.4,326 H105.1" stroke="#000" stroke-width="2"/>
<text transform="translate(45.6,222.2) scale(0.9,1)" class="ax" style="font-size:10.4px">10<tspan dx="2.0" dy="-4.6" font-size="7.2">0</tspan></text>
<text transform="translate(97.4,222.2) scale(0.9,1)" class="ax" style="font-size:10.4px">10<tspan dx="2.0" dy="-4.6" font-size="7.2">1</tspan></text>
<text transform="translate(149.8,222.2) scale(0.9,1)" class="ax" style="font-size:10.4px">10<tspan dx="2.0" dy="-4.6" font-size="7.2">2</tspan></text>
<text transform="translate(201.2,222.2) scale(0.9,1)" class="ax" style="font-size:10.4px">10<tspan dx="2.0" dy="-4.6" font-size="7.2">3</tspan></text>
<text transform="translate(255.0,222.2) scale(0.9,1)" class="ax" style="font-size:10.4px">10<tspan dx="2.0" dy="-4.6" font-size="7.2">4</tspan></text>
<text transform="translate(295.8,222.9) scale(0.9,1)" class="ax" style="font-size:10.4px">10<tspan dx="2.0" dy="-4.6" font-size="7.2">0</tspan></text>
<text transform="translate(345.8,222.9) scale(0.9,1)" class="ax" style="font-size:10.4px">10<tspan dx="2.0" dy="-4.6" font-size="7.2">1</tspan></text>
<text transform="translate(399.6,222.9) scale(0.9,1)" class="ax" style="font-size:10.4px">10<tspan dx="2.0" dy="-4.6" font-size="7.2">2</tspan></text>
<text transform="translate(450.3,222.9) scale(0.9,1)" class="ax" style="font-size:10.4px">10<tspan dx="2.0" dy="-4.6" font-size="7.2">3</tspan></text>
<text transform="translate(504.3,222.9) scale(0.9,1)" class="ax" style="font-size:10.4px">10<tspan dx="2.0" dy="-4.6" font-size="7.2">4</tspan></text>
<text x="0.8" y="21.4" class="big">A</text>
<text x="256.2" y="20.4" class="big">B</text>
<text class="ax" transform="translate(44.3,21.3) rotate(-90)">80</text>
<text class="ax" transform="translate(294.1,14.5) rotate(-90)">80</text>
<text class="ax" transform="translate(44.5,213.5) rotate(-90)">0</text>
<text class="ax" transform="translate(294.5,214) rotate(-90)">0</text>
<text class="ax" transform="translate(36.5,129.3) rotate(-90)" textLength="33">Events</text>
<text class="ax" transform="translate(284.6,127.5) rotate(-90)" textLength="33">Events</text>
<text x="135.7" y="237.8" class="cd" textLength="32.6" lengthAdjust="spacingAndGlyphs">CD62P</text>
<text x="386.4" y="237.9" class="cd" textLength="32.0" lengthAdjust="spacingAndGlyphs">CD62P</text>
<text x="122.9" y="270.7" class="lg" textLength="91.3" lengthAdjust="spacingAndGlyphs">Resting state</text>
<text x="122.9" y="299.5" class="lg" textLength="106.6" lengthAdjust="spacingAndGlyphs">Activated state</text>
<text x="122.9" y="330.1" class="lg" textLength="381.3" lengthAdjust="spacingAndGlyphs">Activated state in the presence of 10 µM α-synuclein</text>
</svg>
</body></html>
